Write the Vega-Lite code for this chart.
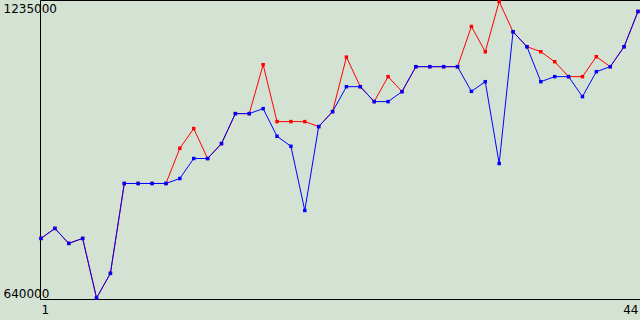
{
  "$schema": "https://vega.github.io/schema/vega-lite/v6.json",
  "width": 600,
  "height": 299,
  "autosize": {"type": "none"},
  "padding": {"left": 40, "top": 0, "right": 0, "bottom": 21},
  "background": "#d4e2d4",
  "config": {
    "view": {"fill": "#d4e2d4", "stroke": "#000000", "strokeWidth": 1},
    "axis": {"labelFont": "DejaVu Sans", "labelFontSize": 12, "labelColor": "#000000", "grid": false, "ticks": false, "tickSize": 0, "domain": false, "title": null, "labelOverlap": false}
  },
  "data": {
    "values": [
      {"x": 1, "r": 759600, "b": 759600},
      {"x": 2, "r": 779600, "b": 779600},
      {"x": 3, "r": 749600, "b": 749600},
      {"x": 4, "r": 759600, "b": 759600},
      {"x": 5, "r": 640000, "b": 640000},
      {"x": 6, "r": 689500, "b": 689500},
      {"x": 7, "r": 869800, "b": 869800},
      {"x": 8, "r": 869800, "b": 869800},
      {"x": 9, "r": 869800, "b": 869800},
      {"x": 10, "r": 869800, "b": 869800},
      {"x": 11, "r": 940500, "b": 879800},
      {"x": 12, "r": 980000, "b": 919900},
      {"x": 13, "r": 919900, "b": 919900},
      {"x": 14, "r": 949900, "b": 949900},
      {"x": 15, "r": 1010000, "b": 1010000},
      {"x": 16, "r": 1010000, "b": 1010000},
      {"x": 17, "r": 1108200, "b": 1020000},
      {"x": 18, "r": 994000, "b": 964500},
      {"x": 19, "r": 994000, "b": 944500},
      {"x": 20, "r": 994000, "b": 815700},
      {"x": 21, "r": 984000, "b": 984000},
      {"x": 22, "r": 1014000, "b": 1014000},
      {"x": 23, "r": 1123400, "b": 1064100},
      {"x": 24, "r": 1064100, "b": 1064100},
      {"x": 25, "r": 1034100, "b": 1034100},
      {"x": 26, "r": 1084200, "b": 1034100},
      {"x": 27, "r": 1054100, "b": 1054100},
      {"x": 28, "r": 1104200, "b": 1104200},
      {"x": 29, "r": 1104200, "b": 1104200},
      {"x": 30, "r": 1104200, "b": 1104200},
      {"x": 31, "r": 1104200, "b": 1104200},
      {"x": 32, "r": 1184900, "b": 1054700},
      {"x": 33, "r": 1134200, "b": 1074100},
      {"x": 34, "r": 1235000, "b": 909900},
      {"x": 35, "r": 1174300, "b": 1174300},
      {"x": 36, "r": 1144300, "b": 1144300},
      {"x": 37, "r": 1134200, "b": 1074100},
      {"x": 38, "r": 1114200, "b": 1084200},
      {"x": 39, "r": 1084200, "b": 1084200},
      {"x": 40, "r": 1084200, "b": 1044100},
      {"x": 41, "r": 1124200, "b": 1094200},
      {"x": 42, "r": 1104200, "b": 1104200},
      {"x": 43, "r": 1144300, "b": 1144300},
      {"x": 44, "r": 1215000, "b": 1215000}
    ]
  },
  "encoding": {
    "x": {
      "field": "x", "type": "quantitative",
      "scale": {"domain": [1, 44], "range": [1, 598], "nice": false, "zero": false},
      "axis": {"values": [1, 44], "labelFlush": true, "labelPadding": 5}
    }
  },
  "layer": [
    {
      "mark": {"type": "line", "color": "#ff0000", "strokeWidth": 1},
      "encoding": {
        "y": {
          "field": "r", "type": "quantitative",
          "scale": {"domain": [640000, 1235000], "range": [298, 1.5], "nice": false, "zero": false},
          "axis": {"values": [640000, 1235000], "format": "d", "labelAlign": "left", "labelPadding": 37, "labelFlush": true, "labelOffset": 2}
        }
      }
    },
    {
      "mark": {"type": "point", "shape": "square", "filled": true, "color": "#ff0000", "size": 12, "opacity": 1, "strokeWidth": 0},
      "encoding": {"y": {"field": "r", "type": "quantitative"}}
    },
    {
      "mark": {"type": "line", "color": "#0000ff", "strokeWidth": 1},
      "encoding": {"y": {"field": "b", "type": "quantitative"}}
    },
    {
      "mark": {"type": "point", "shape": "square", "filled": true, "color": "#0000ff", "size": 12, "opacity": 1, "strokeWidth": 0},
      "encoding": {"y": {"field": "b", "type": "quantitative"}}
    }
  ],
  "resolve": {"scale": {"y": "shared"}, "axis": {"y": "shared"}}
}
